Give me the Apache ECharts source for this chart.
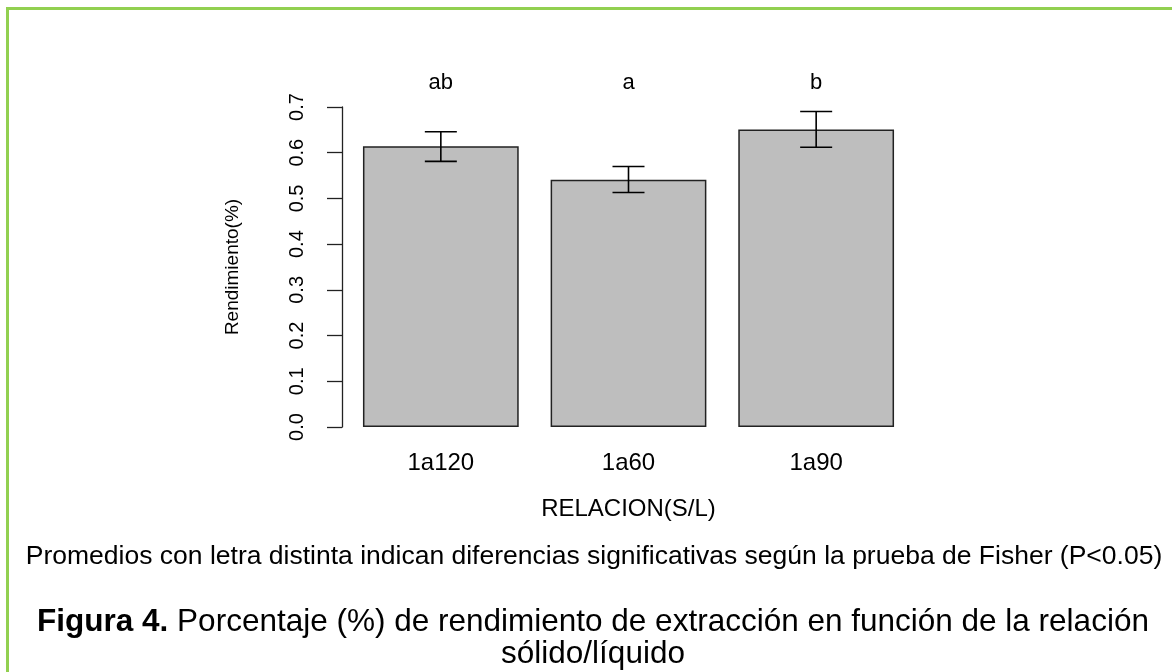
<!DOCTYPE html>
<html>
<head>
<meta charset="utf-8">
<title>Rendimiento vs relacion S/L</title>
<script src="https://cdn.jsdelivr.net/npm/echarts@6/dist/echarts.min.js"></script>
<style>
  html, body { margin: 0; padding: 0; background: #fff; }
  #main { width: 1172px; height: 672px; }
</style>
</head>
<body>
<div id="main"></div>
<script>
// data
var categories = ['1a120', '1a60', '1a90'];
var means = [0.614, 0.541, 0.651];
var errLow = [0.581, 0.513, 0.612];
var errHigh = [0.646, 0.570, 0.690];
var letters = ['ab', 'a', 'b'];
var yTicks = [0, 0.1, 0.2, 0.3, 0.4, 0.5, 0.6, 0.7];

var font = 'Liberation Sans, Arial, Helvetica, sans-serif';
var mychart = echarts.init(document.getElementById('main'), null, { renderer: 'canvas' });

var errData = [];
for (var i = 0; i < categories.length; i++) {
  errData.push([i, errLow[i], errHigh[i]]);
}

var option = {
  animation: false,
  backgroundColor: '#fff',
  textStyle: { fontFamily: font, color: '#000' },
  grid: { left: 347, right: 262, top: 107, bottom: 245 },
  xAxis: [
    {
      type: 'category',
      data: categories,
      position: 'bottom',
      axisLine: { show: false },
      axisTick: { show: false },
      axisLabel: { fontSize: 24, color: '#000', margin: 24 },
      name: 'RELACION(S/L)',
      nameLocation: 'middle',
      nameGap: 70,
      nameTextStyle: { fontSize: 24, color: '#000' }
    },
    {
      // significance letters above the bars
      type: 'category',
      data: letters,
      position: 'top',
      axisLine: { show: false },
      axisTick: { show: false },
      axisLabel: { fontSize: 22, color: '#000', margin: 13 }
    }
  ],
  yAxis: {
    type: 'value',
    min: yTicks[0],
    max: yTicks[yTicks.length - 1],
    interval: 0.1,
    offset: 5,
    splitLine: { show: false },
    axisLine: { show: true, lineStyle: { color: '#222', width: 1.3 } },
    axisTick: { show: true, length: 15, lineStyle: { color: '#222', width: 1.3 } },
    axisLabel: {
      rotate: 90,
      fontSize: 20,
      color: '#000',
      margin: 35,
      formatter: function (v) { return v.toFixed(1); }
    },
    name: 'Rendimiento(%)',
    nameLocation: 'middle',
    nameRotate: 90,
    nameGap: 100,
    nameTextStyle: { fontSize: 19, color: '#000' }
  },
  series: [
    {
      type: 'bar',
      data: means,
      barCategoryGap: '17%',
      itemStyle: { color: '#bebebe', borderColor: '#222', borderWidth: 1.5 }
    },
    {
      type: 'custom',
      data: errData,
      z: 10,
      renderItem: function (params, api) {
        var x = api.coord([api.value(0), 0])[0];
        var lo = api.coord([api.value(0), api.value(1)])[1];
        var hi = api.coord([api.value(0), api.value(2)])[1];
        var cap = 16;
        var st = { stroke: '#000', lineWidth: 1.6 };
        return {
          type: 'group',
          children: [
            { type: 'line', shape: { x1: x, y1: lo, x2: x, y2: hi }, style: st },
            { type: 'line', shape: { x1: x - cap, y1: hi, x2: x + cap, y2: hi }, style: st },
            { type: 'line', shape: { x1: x - cap, y1: lo, x2: x + cap, y2: lo }, style: st }
          ]
        };
      }
    }
  ],
  graphic: [
    // green frame (top and left edges)
    { type: 'line', shape: { x1: 6, y1: 8.5, x2: 1172, y2: 8.5 }, style: { stroke: '#92d050', lineWidth: 3 } },
    { type: 'line', shape: { x1: 7.5, y1: 7, x2: 7.5, y2: 672 }, style: { stroke: '#92d050', lineWidth: 3 } },
    {
      type: 'text',
      x: 594, y: 557,
      style: {
        text: 'Promedios con letra distinta indican diferencias significativas según la prueba de Fisher (P<0.05)',
        font: '26.5px ' + font,
        fill: '#000',
        textAlign: 'center',
        textVerticalAlign: 'middle'
      }
    },
    {
      type: 'text',
      x: 593, y: 622,
      style: {
        text: '{b|Figura 4.} Porcentaje (%) de rendimiento de extracción en función de la relación',
        font: '31.5px ' + font,
        fill: '#000',
        textAlign: 'center',
        textVerticalAlign: 'middle',
        rich: {
          b: { fontWeight: 'bold', fontSize: 31.5, fontFamily: font, fill: '#000' }
        }
      }
    },
    {
      type: 'text',
      x: 593, y: 654,
      style: {
        text: 'sólido/líquido',
        font: '31.5px ' + font,
        fill: '#000',
        textAlign: 'center',
        textVerticalAlign: 'middle'
      }
    }
  ]
};

mychart.setOption(option);
</script>
</body>
</html>
